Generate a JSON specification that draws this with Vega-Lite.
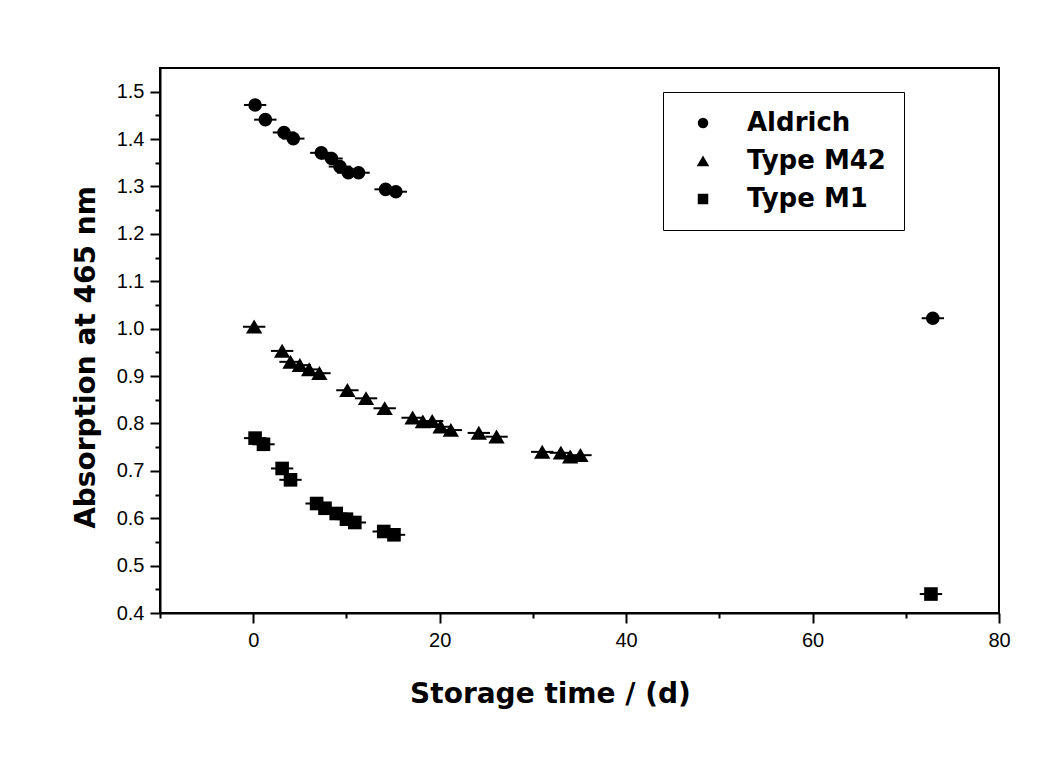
{
  "$schema": "https://vega.github.io/schema/vega-lite/v6.json",
  "width": 839,
  "height": 545,
  "autosize": {"type": "none"},
  "padding": {"left": 160, "top": 68, "right": 23, "bottom": 144},
  "background": "white",
  "config": {
    "view": {"stroke": "black", "strokeWidth": 2},
    "axis": {
      "domainColor": "black", "domainWidth": 2, "tickColor": "black", "tickWidth": 2,
      "labelColor": "black", "titleColor": "black", "labelFont": "Liberation Sans", "titleFont": "DejaVu Sans",
      "labelFontSize": 20, "titleFontSize": 28, "titleFontWeight": "bold", "grid": false
    }
  },
  "data": {"values": [
    {"s": "Aldrich", "t": 0.2, "a": 1.472, "err": 1.2},
    {"s": "Aldrich", "t": 1.3, "a": 1.441, "err": 1.2},
    {"s": "Aldrich", "t": 3.3, "a": 1.414, "err": 1.2},
    {"s": "Aldrich", "t": 4.3, "a": 1.401, "err": 1.2},
    {"s": "Aldrich", "t": 7.3, "a": 1.371, "err": 1.2},
    {"s": "Aldrich", "t": 8.4, "a": 1.359, "err": 1.2},
    {"s": "Aldrich", "t": 9.3, "a": 1.342, "err": 1.2},
    {"s": "Aldrich", "t": 10.2, "a": 1.329, "err": 1.2},
    {"s": "Aldrich", "t": 11.3, "a": 1.329, "err": 1.2},
    {"s": "Aldrich", "t": 14.2, "a": 1.294, "err": 1.2},
    {"s": "Aldrich", "t": 15.3, "a": 1.289, "err": 1.2},
    {"s": "Aldrich", "t": 72.9, "a": 1.022, "err": 1.2},
    {"s": "Type M42", "t": 0.1, "a": 1.004, "err": 1.2},
    {"s": "Type M42", "t": 3.1, "a": 0.953, "err": 1.2},
    {"s": "Type M42", "t": 4.0, "a": 0.930, "err": 1.2},
    {"s": "Type M42", "t": 5.0, "a": 0.923, "err": 1.2},
    {"s": "Type M42", "t": 6.0, "a": 0.914, "err": 1.2},
    {"s": "Type M42", "t": 7.1, "a": 0.906, "err": 1.2},
    {"s": "Type M42", "t": 10.1, "a": 0.870, "err": 1.2},
    {"s": "Type M42", "t": 12.1, "a": 0.853, "err": 1.2},
    {"s": "Type M42", "t": 14.1, "a": 0.832, "err": 1.2},
    {"s": "Type M42", "t": 17.1, "a": 0.812, "err": 1.2},
    {"s": "Type M42", "t": 18.2, "a": 0.804, "err": 1.2},
    {"s": "Type M42", "t": 19.2, "a": 0.805, "err": 1.2},
    {"s": "Type M42", "t": 20.1, "a": 0.793, "err": 1.2},
    {"s": "Type M42", "t": 21.2, "a": 0.786, "err": 1.2},
    {"s": "Type M42", "t": 24.2, "a": 0.780, "err": 1.2},
    {"s": "Type M42", "t": 26.1, "a": 0.772, "err": 1.2},
    {"s": "Type M42", "t": 31.0, "a": 0.740, "err": 1.2},
    {"s": "Type M42", "t": 33.0, "a": 0.738, "err": 1.2},
    {"s": "Type M42", "t": 34.0, "a": 0.730, "err": 1.2},
    {"s": "Type M42", "t": 35.1, "a": 0.733, "err": 1.2},
    {"s": "Type M1", "t": 0.2, "a": 0.769, "err": 1.2},
    {"s": "Type M1", "t": 1.1, "a": 0.756, "err": 1.2},
    {"s": "Type M1", "t": 3.1, "a": 0.705, "err": 1.2},
    {"s": "Type M1", "t": 4.0, "a": 0.681, "err": 1.2},
    {"s": "Type M1", "t": 6.8, "a": 0.631, "err": 1.2},
    {"s": "Type M1", "t": 7.7, "a": 0.621, "err": 1.2},
    {"s": "Type M1", "t": 8.9, "a": 0.610, "err": 1.2},
    {"s": "Type M1", "t": 10.0, "a": 0.598, "err": 1.2},
    {"s": "Type M1", "t": 10.9, "a": 0.591, "err": 1.2},
    {"s": "Type M1", "t": 14.0, "a": 0.572, "err": 1.2},
    {"s": "Type M1", "t": 15.1, "a": 0.565, "err": 1.2},
    {"s": "Type M1", "t": 72.7, "a": 0.440, "err": 1.2}
  ]},
  "encoding": {
    "x": {
      "field": "t", "type": "quantitative", "title": "Storage time / (d)",
      "scale": {"domain": [-10, 80], "nice": false, "zero": false},
      "axis": {
        "values": [-10, 0, 10, 20, 30, 40, 50, 60, 70, 80],
        "labelExpr": "datum.value % 20 == 0 ? datum.label : ''",
        "tickSize": {"condition": {"test": "datum.value % 20 != 0", "value": 5}, "value": 10},
        "labelPadding": 7, "titlePadding": 30, "titleX": 390, "labelFlush": false
      }
    },
    "y": {
      "field": "a", "type": "quantitative", "title": "Absorption  at 465 nm",
      "scale": {"domain": [0.4, 1.55], "nice": false, "zero": false},
      "axis": {
        "values": [0.4, 0.45, 0.5, 0.55, 0.6, 0.65, 0.7, 0.75, 0.8, 0.85, 0.9, 0.95, 1.0, 1.05, 1.1, 1.15, 1.2, 1.25, 1.3, 1.35, 1.4, 1.45, 1.5],
        "format": ".1f",
        "labelExpr": "abs(datum.value*10 - round(datum.value*10)) < 0.001 ? datum.label : ''",
        "tickSize": {"condition": {"test": "abs(datum.value*10 - round(datum.value*10)) > 0.001", "value": 5}, "value": 10},
        "labelPadding": 6, "titlePadding": 16, "titleY": 289, "labelFlush": false
      }
    }
  },
  "layer": [
    {
      "mark": {"type": "errorbar", "color": "black", "thickness": 2},
      "encoding": {
        "xError": {"field": "err"}
      }
    },
    {
      "mark": {"type": "point", "filled": true, "opacity": 1, "color": "black", "size": 185},
      "encoding": {
        "shape": {
          "field": "s", "type": "nominal",
          "scale": {"domain": ["Aldrich", "Type M42", "Type M1"], "range": ["circle", "M0,-1.05L1.2,1L-1.2,1Z", "square"]},
          "legend": {
            "orient": "none", "legendX": 503, "legendY": 24, "title": null,
            "strokeColor": "black", "fillColor": "white", "padding": 18, "symbolOffset": 9,
            "labelFont": "DejaVu Sans", "labelFontSize": 26, "labelFontWeight": "bold", "labelColor": "black",
            "symbolSize": 110, "symbolFillColor": "black", "symbolStrokeColor": "black",
            "rowPadding": 12, "labelOffset": 31
          }
        }
      }
    }
  ]
}
